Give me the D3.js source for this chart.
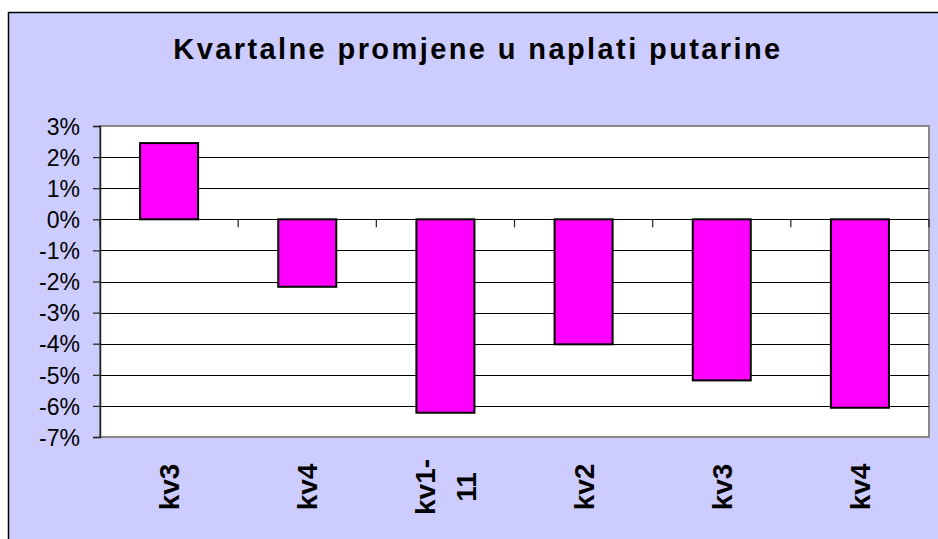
<!DOCTYPE html>
<html>
<head>
<meta charset="utf-8">
<script src="https://cdn.jsdelivr.net/npm/d3@7"></script>
<style>
  html, body { margin: 0; padding: 0; background: #ffffff; }
  svg { display: block; font-family: "Liberation Sans", Arial, sans-serif; }
</style>
</head>
<body>
<svg id="chart" width="938" height="539"></svg>
<script>
// quarters and the change in toll collection (%)
const categories = ["kv3", "kv4", "kv1-11", "kv2", "kv3", "kv4"];
const values = [2.45, -2.17, -6.22, -4.02, -5.18, -6.06];
const yTicks = [3, 2, 1, 0, -1, -2, -3, -4, -5, -6, -7];
const title = "Kvartalne promjene u naplati putarine";

const svg = d3.select("#chart");

// outer frame
svg.append("rect")
   .attr("x", 8.5)
   .attr("y", 12.5)
   .attr("width", 960)
   .attr("height", 540)
   .style("fill", "#ccccff")
   .style("stroke", "#000")
   .style("stroke-width", 1.5);

svg.append("text")
   .attr("x", 478)
   .attr("y", 59)
   .attr("text-anchor", "middle")
   .style("font-size", "29px")
   .style("font-weight", "bold")
   .style("letter-spacing", "2.4px")
   .style("fill", "#000")
   .text(title);

const plotL = 100, plotR = 929, plotT = 126, plotB = 437;

const y = d3.scaleLinear()
            .domain([-7, 3])
            .range([plotB, plotT]);

const x = d3.scaleBand()
            .domain(d3.range(categories.length))
            .range([plotL, plotR])
            .paddingInner(0.58)
            .paddingOuter(0.29);

// plot area
svg.append("rect")
   .attr("x", plotL)
   .attr("y", plotT)
   .attr("width", plotR - plotL)
   .attr("height", plotB - plotT)
   .style("fill", "#fff")
   .style("stroke", "#888")
   .style("stroke-width", 2);

// gridlines
svg.append("g")
   .selectAll("line")
   .data(yTicks.filter(d => d != 3 && d != -7))
   .enter()
   .append("line")
   .attr("x1", plotL)
   .attr("x2", plotR)
   .attr("y1", d => Math.round(y(d)) + 0.5)
   .attr("y2", d => Math.round(y(d)) + 0.5)
   .style("stroke", "#000")
   .style("stroke-width", 1);

// y axis
const yAxis = svg.append("g")
   .attr("transform", `translate(${plotL},0)`)
   .call(d3.axisLeft(y)
           .tickValues(yTicks)
           .tickSize(7)
           .tickPadding(13)
           .tickFormat(d => d + "%"));
yAxis.select(".domain").style("stroke", "#222").style("stroke-width", 1.5);
yAxis.selectAll(".tick line").style("stroke", "#222").style("stroke-width", 1.2);
yAxis.selectAll(".tick text")
     .style("font-size", "23px")
     .style("font-family", "'Liberation Sans', Arial, sans-serif")
     .style("fill", "#000")
     .attr("dy", "0.36em");

// bars
svg.append("g")
   .selectAll("rect")
   .data(values)
   .enter()
   .append("rect")
   .attr("x", (d, i) => x(i))
   .attr("y", d => y(Math.max(0, d)))
   .attr("width", x.bandwidth())
   .attr("height", d => Math.abs(y(d) - y(0)))
   .style("fill", "#ff00ff")
   .style("stroke", "#000")
   .style("stroke-width", 2);

// category separator ticks on the zero line
const step = x.step();
svg.append("g")
   .selectAll("line")
   .data(d3.range(categories.length + 1))
   .enter()
   .append("line")
   .attr("x1", d => plotL + d * step)
   .attr("x2", d => plotL + d * step)
   .attr("y1", y(0))
   .attr("y2", y(0) + 8)
   .style("stroke", "#222")
   .style("stroke-width", 1.2);

// rotated category labels, wrapped after the hyphen
const labels = svg.append("g")
   .selectAll("text")
   .data(categories)
   .enter()
   .append("text")
   .attr("transform", (d, i) => `translate(${x(i) + x.bandwidth() / 2},487) rotate(-90)`)
   .attr("text-anchor", "middle")
   .style("font-size", "28px")
   .style("font-weight", "bold")
   .style("fill", "#000");

labels.each(function(d) {
  const parts = d.includes("-") ? [d.slice(0, d.indexOf("-") + 1), d.slice(d.indexOf("-") + 1)] : [d];
  const lineH = 41;
  const off = -(parts.length - 1) * lineH / 2;
  parts.forEach((p, k) => {
    d3.select(this).append("tspan")
      .attr("x", 0)
      .attr("y", off + k * lineH)
      .attr("dy", "0.36em")
      .text(p);
  });
});
</script>
</body>
</html>
